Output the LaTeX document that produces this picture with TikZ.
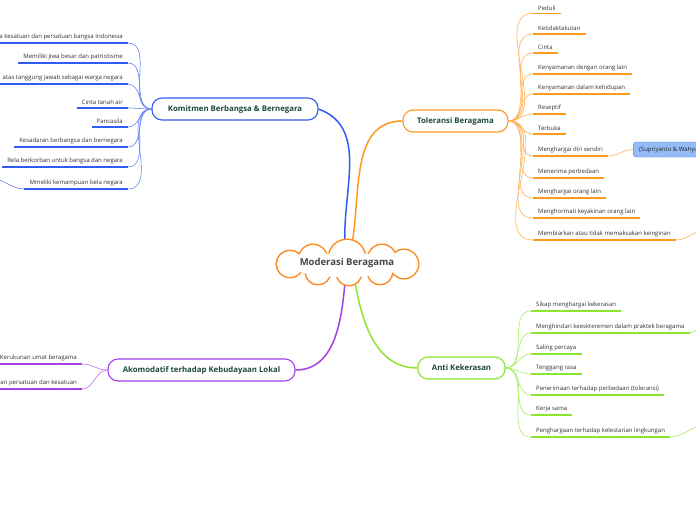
\documentclass[tikz,border=0pt]{standalone}
\usepackage{fontspec}
\setmainfont{Open Sans}

\definecolor{kblue}{HTML}{2F5CF2}
\definecolor{torange}{HTML}{FF9A1F}
\definecolor{agreen}{HTML}{8BE62E}
\definecolor{kpurple}{HTML}{A43FEA}
\definecolor{cloudorange}{HTML}{FF8A1C}
\definecolor{topictext}{HTML}{1D4A3C}
\definecolor{reffill}{HTML}{93BBF7}
\definecolor{refdraw}{HTML}{4D82E6}

\tikzset{
  topic/.style={draw=#1, line width=1.1pt, fill=white, rounded corners=10pt,
    minimum height=22pt, inner xsep=12pt, text=topictext,
    font=\bfseries\fontsize{7.8}{9}\selectfont},
  leafL/.style={anchor=south east, inner xsep=5pt, inner ysep=3pt,
    text=black!80, font=\fontsize{6}{7}\selectfont},
  leafR/.style={leafL, anchor=south west},
  uline/.style={line width=1.8pt, draw=#1},
  twig/.style={line width=0.6pt, draw=#1!75},
  trunk/.style={line width=1.5pt, draw=#1},
  puffline/.style={draw=cloudorange, line width=3pt},
  refbox/.style={draw=refdraw, fill=reffill, rounded corners=3pt, anchor=west,
    minimum height=15pt, inner xsep=6pt, text=black!85,
    font=\fontsize{6}{7}\selectfont},
}

\begin{document}
\begin{tikzpicture}[x=1pt, y=-1pt]
    % 1. canvas
    \fill[white] (0,0) rectangle (696,520);
    \useasboundingbox (0,0) rectangle (696,520);

    % 2. main topics
    \node[topic=kblue, minimum width=166pt] (komitmen) at (235,109) {Komitmen Berbangsa \& Bernegara};
    \node[topic=torange, minimum width=105pt] (toleransi) at (455.5,121) {Toleransi Beragama};
    \node[topic=kpurple, minimum width=187pt] (akomodatif) at (201.5,370) {Akomodatif terhadap Kebudayaan Lokal};
    \node[topic=agreen, minimum width=87pt] (anti) at (461.5,368) {Anti Kekerasan};

    % trunks (they end at the cloud's edge)
    \coordinate (cloudN) at (347,244);
    \coordinate (cloudS) at (347,282);
    \draw[trunk=kblue] ([xshift=-2pt]cloudN) to[out=93,in=-20] (komitmen.east);
    \draw[trunk=torange] ([xshift=5pt]cloudN) to[out=80,in=180] (toleransi.west);
    \draw[trunk=kpurple] ([xshift=-2pt]cloudS) to[out=-95,in=0] (akomodatif.east);
    \draw[trunk=agreen] ([xshift=8pt]cloudS) to[out=-80,in=180] (anti.west);

    % 3. central cloud: puffs outlined, then filled again so only the rim stays
    \foreach \cx/\cy/\r in {347/258/18, 313/259/14, 382/259/14, 290/264/13,
        404/264/14, 318/272/12, 349/273/12, 380/272/12}{
      \draw[puffline] (\cx,\cy) circle (\r pt);
    }
    \foreach \cx/\cy/\r in {347/258/18, 313/259/14, 382/259/14, 290/264/13,
        404/264/14, 318/272/12, 349/273/12, 380/272/12}{
      \fill[white] (\cx,\cy) circle (\r pt);
    }
    \fill[white] (347,265) ellipse (58pt and 12pt);
    \node[text=black!72, font=\bfseries\fontsize{9.5}{11}\selectfont] (root) at (347,263) {Moderasi Beragama};

    % 4. Komitmen (left side)
    \foreach \nm/\yy/\txt in {k1/43/{a kesatuan dan persatuan bangsa Indonesia},
        k2/63/{Memiliki jiwa besar dan patriotisme},
        k3/84/{atas tanggung jawab sebagai warga negara},
        k4/108/{Cinta tanah air},
        k5/127/{Pancasila},
        k6/147/{Kesadaran berbangsa dan bernegara},
        k7/167/{Rela berkorban untuk bangsa dan negara},
        k8/189/{Mmeliki kemampuan bela negara}}{
      \node[leafL] (\nm) at (128,\yy) {\txt};
      \draw[uline=kblue] (\nm.south west) -- (\nm.south east);
      \draw[twig=kblue] (komitmen.west) to[out=180,in=0] (\nm.south east);
    }
    \coordinate (koff) at (-8,179);
    \draw[twig=kblue] (k8.south west) to[out=180,in=0] (koff);

    % 5. Toleransi (right side)
    \foreach \nm/\yy/\txt in {t1/13.5/{Peduli},
        t2/34/{Ketidaktakutan},
        t3/53/{Cinta},
        t4/74/{Kenyamanan dengan orang lain},
        t5/94/{Kenyamanan dalam kehidupan},
        t6/114/{Reseptif},
        t7/134/{Terbuka},
        t8/156/{Menghargai diri sendiri},
        t9/178/{Menerima perbedaan},
        t10/198/{Menghargai orang lain},
        t11/218/{Menghormati keyakinan orang lain},
        t12/240/{Membiarkan atau tidak memaksakan keinginan}}{
      \node[leafR] (\nm) at (533,\yy) {\txt};
      \draw[uline=torange] (\nm.south west) -- (\nm.south east);
      \draw[twig=torange] (toleransi.east) to[out=0,in=180] (\nm.south west);
    }
    \node[refbox] (ref) at (633,149.5) {(Supriyanto \& Wahyudi)};
    \draw[twig=torange] (t8.south east) to[out=0,in=180] (ref.west);
    \coordinate (toff) at (704,231);
    \draw[twig=torange] (t12.south east) to[out=0,in=180] (toff);

    % 6. Akomodatif (left side)
    \foreach \nm/\yy/\txt in {a1/364/{Kerukunan umat beragama},
        a2/389/{an persatuan dan kesatuan}}{
      \node[leafL] (\nm) at (82,\yy) {\txt};
      \draw[uline=kpurple] (\nm.south west) -- (\nm.south east);
      \draw[twig=kpurple] (akomodatif.west) to[out=180,in=0] (\nm.south east);
    }

    % 7. Anti Kekerasan (right side)
    \foreach \nm/\yy/\txt in {g1/311/{Sikap menghargai kekerasan},
        g2/333/{Menghindari keeskteremen dalam praktek beragama},
        g3/354/{Saling percaya},
        g4/374/{Tenggang rasa},
        g5/395/{Penerimaan terhadap perbedaan (toleransi)},
        g6/415/{Kerja sama},
        g7/437/{Penghargaan terhadap kelestarian lingkungan}}{
      \node[leafR] (\nm) at (531,\yy) {\txt};
      \draw[uline=agreen] (\nm.south west) -- (\nm.south east);
      \draw[twig=agreen] (anti.east) to[out=0,in=180] (\nm.south west);
    }
    \coordinate (goffa) at (704,326);
    \coordinate (goffb) at (704,426);
    \draw[twig=agreen] (g2.south east) to[out=0,in=180] (goffa);
    \draw[twig=agreen] (g7.south east) to[out=0,in=180] (goffb);
\end{tikzpicture}
\end{document}
